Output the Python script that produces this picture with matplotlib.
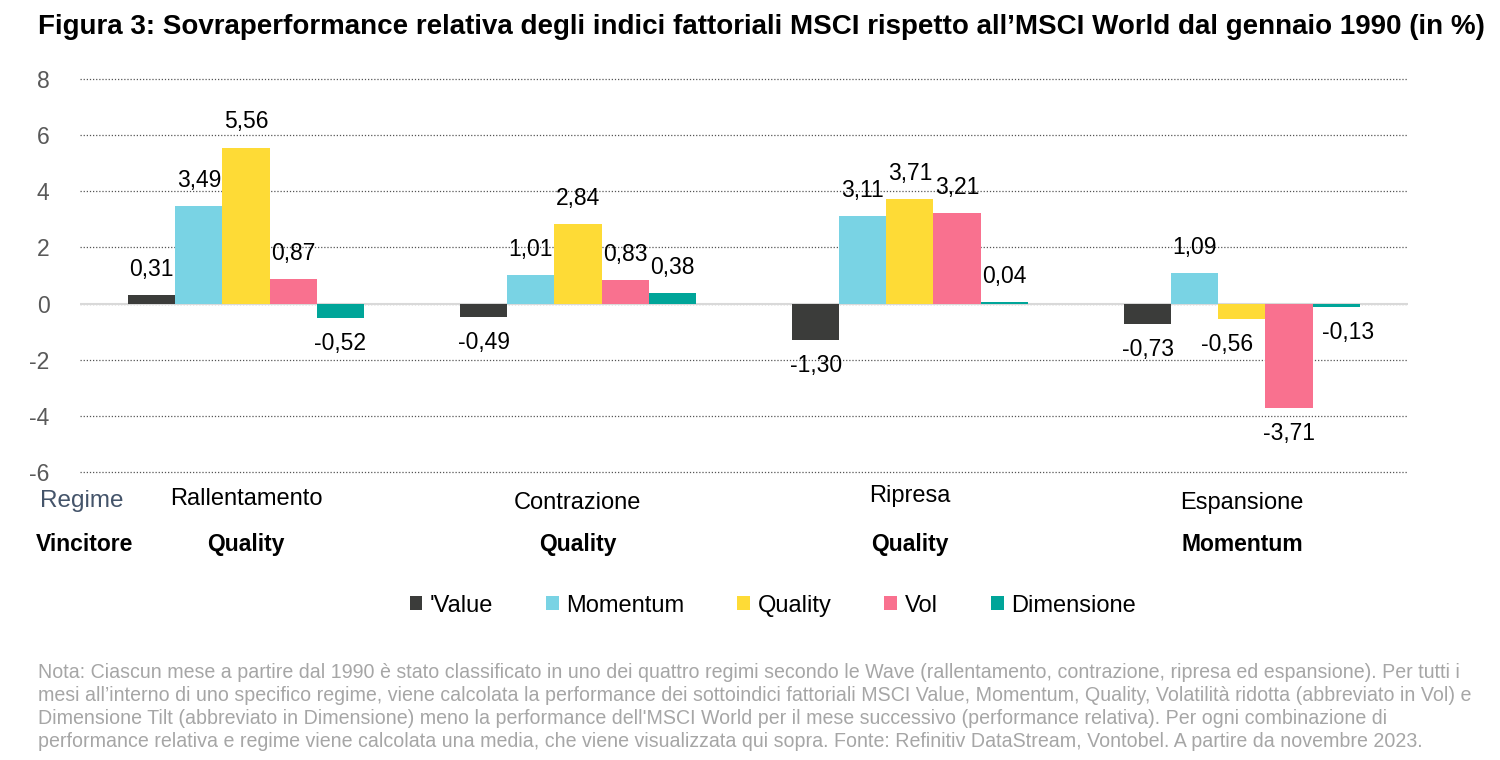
import numpy as np
import matplotlib
matplotlib.use('Agg')
import matplotlib.pyplot as plt
from matplotlib import transforms

plt.rcParams['font.family'] = ['Liberation Sans', 'DejaVu Sans']

regimes = ['Rallentamento', 'Contrazione', 'Ripresa', 'Espansione']
winners = ['Quality', 'Quality', 'Quality', 'Momentum']
series = ["'Value", 'Momentum', 'Quality', 'Vol', 'Dimensione']
value = [0.31, -0.49, -1.30, -0.73]
momentum = [3.49, 1.01, 3.11, 1.09]
quality = [5.56, 2.84, 3.71, -0.56]
vol = [0.87, 0.83, 3.21, -3.71]
dimensione = [-0.52, 0.38, 0.04, -0.13]
yticks = [-6, -4, -2, 0, 2, 4, 6, 8]
colors = ['#3b3c3a', '#79d3e4', '#fedb36', '#f9718f', '#00a599']

note = ("Nota: Ciascun mese a partire dal 1990 è stato classificato in uno dei quattro regimi secondo le Wave (rallentamento, contrazione, ripresa ed espansione). Per tutti i\n"
        "mesi all\u2019interno di uno specifico regime, viene calcolata la performance dei sottoindici fattoriali MSCI Value, Momentum, Quality, Volatilità ridotta (abbreviato in Vol) e\n"
        "Dimensione Tilt (abbreviato in Dimensione) meno la performance dell'MSCI World per il mese successivo (performance relativa). Per ogni combinazione di\n"
        "performance relativa e regime viene calcolata una media, che viene visualizzata qui sopra. Fonte: Refinitiv DataStream, Vontobel. A partire da novembre 2023.")

# small sideways nudges of a few labels, as in the original (series index, group index) -> dx
nudge = {(2, 3): -0.045, (4, 3): 0.035}

fig = plt.figure(figsize=(15, 7.6), dpi=100)
ax = fig.add_axes([0.0533, 0.379, 0.8853, 0.517])

data = [value, momentum, quality, vol, dimensione]
x = np.arange(len(regimes))
w = 0.142
for k, (name, vals) in enumerate(zip(series, data)):
    pos = x + (k - 2) * w
    ax.bar(pos, vals, w, color=colors[k], label=name, zorder=3)
    for g, (px, v) in enumerate(zip(pos, vals)):
        lab = ('%.2f' % v).replace('.', ',')
        px = px + nudge.get((k, g), 0)
        if v >= 0:
            ax.text(px, v + 0.5, lab, ha='center', va='bottom', fontsize=16.5)
        else:
            ax.text(px, v - 0.5, lab, ha='center', va='top', fontsize=16.5)

ax.set_xlim(-0.5, 3.5)
ax.set_ylim(-6, 8)
ax.set_yticks(yticks)
ax.set_yticklabels([str(t) for t in yticks])
ax.yaxis.grid(True, linestyle=(0, (1, 1.5)), color='#555555', linewidth=0.9)
for gl in ax.get_ygridlines():
    gl.set_clip_on(False)
ax.axhline(0, color='#d9d9d9', linewidth=1.5, zorder=2)
ax.set_xticks([])
ax.tick_params(axis='y', length=0, labelsize=16.5, labelcolor='#595959', pad=22)
for s in ax.spines.values():
    s.set_visible(False)

tr = transforms.blended_transform_factory(ax.transData, fig.transFigure)
reg_y = [0.343, 0.338, 0.347, 0.338]
for i, (r, wn) in enumerate(zip(regimes, winners)):
    ax.text(i, reg_y[i], r, transform=tr, ha='center', va='center', fontsize=17)
    ax.text(i, 0.284, wn, transform=tr, ha='center', va='center', fontsize=16.5, fontweight='bold')
fig.text(0.027, 0.341, 'Regime', ha='left', va='center', fontsize=17.5, color='#44546a')
fig.text(0.024, 0.284, 'Vincitore', ha='left', va='center', fontsize=16.5, fontweight='bold')

fig.text(0.025, 0.965, 'Figura 3: Sovraperformance relativa degli indici fattoriali MSCI rispetto all\u2019MSCI World dal gennaio 1990 (in %)',
         ha='left', va='center', fontsize=20, fontweight='bold')

fig.legend(loc='center', bbox_to_anchor=(0.515, 0.203), ncol=5, frameon=False, fontsize=17,
           handlelength=0.55, handleheight=0.55, handletextpad=0.3, columnspacing=2.25)

fig.text(0.025, 0.128, note, ha='left', va='top', fontsize=14.1, color='#a6a6a6', linespacing=1.265)

fig.savefig('out.png', dpi=100)
